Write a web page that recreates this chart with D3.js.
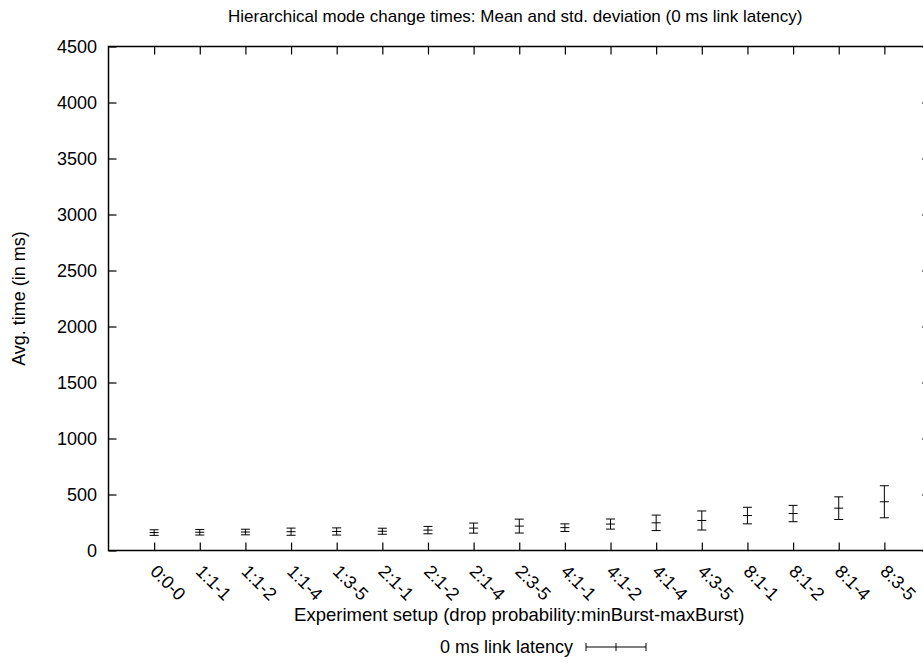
<!DOCTYPE html>
<html>
<head>
<meta charset="utf-8">
<script src="https://cdn.jsdelivr.net/npm/d3@7"></script>
<style>
  html, body { margin: 0; padding: 0; background: #fff; }
  svg { display: block; }
  text { font-family: "Liberation Sans", Arial, Helvetica, sans-serif; fill: #000; }
</style>
</head>
<body>
<svg id="chart" width="923" height="665"></svg>
<script>
// Experiment setups (drop probability:minBurst-maxBurst)
const categories = ["0:0-0", "1:1-1", "1:1-2", "1:1-4", "1:3-5", "2:1-1", "2:1-2", "2:1-4",
  "2:3-5", "4:1-1", "4:1-2", "4:1-4", "4:3-5", "8:1-1", "8:1-2", "8:1-4", "8:3-5"];
// Mean mode change time (ms) per setup
const means = [160, 163, 165, 168, 170, 172, 182, 200, 218, 204, 236, 247, 268, 312, 330, 378, 435];
// Standard deviation (ms) per setup
const stds = [25, 25, 25, 32, 32, 27, 33, 45, 62, 34, 45, 69, 85, 74, 73, 101, 143];
// Y axis ticks
const yTicks = [0, 500, 1000, 1500, 2000, 2500, 3000, 3500, 4000, 4500];

const title = "Hierarchical mode change times: Mean and std. deviation (0 ms link latency)";
const xLabel = "Experiment setup (drop probability:minBurst-maxBurst)";
const yLabel = "Avg. time (in ms)";
const seriesName = "0 ms link latency";

const svg = d3.select("#chart");
const plotL = 108.5, plotR = 930, plotT = 46.5, plotB = 550.5;
const midX = (plotL + plotR) / 2, midY = (plotT + plotB) / 2;
const fontSize = 18;

svg.append("rect").attr("width", 923).attr("height", 665).attr("fill", "#fff");

const x = d3.scaleLinear().domain([-1, categories.length]).range([plotL, plotR]);
const y = d3.scaleLinear().domain([0, 4500]).range([plotB, plotT]);
const idx = d3.range(categories.length);

// axes with inward ticks, mirrored on all four sides
const yAxisL = svg.append("g").attr("transform", `translate(${plotL},0)`)
  .call(d3.axisLeft(y).tickValues(yTicks).tickFormat(d3.format("d"))
    .tickSizeInner(-8).tickSizeOuter(0).tickPadding(11.5));
const yAxisR = svg.append("g").attr("transform", `translate(${plotR},0)`)
  .call(d3.axisRight(y).tickValues(yTicks).tickSizeInner(-8).tickSizeOuter(0).tickFormat(""));
const xAxisB = svg.append("g").attr("transform", `translate(0,${plotB})`)
  .call(d3.axisBottom(x).tickValues(idx).tickSizeInner(-8).tickSizeOuter(0).tickFormat(""));
const xAxisT = svg.append("g").attr("transform", `translate(0,${plotT})`)
  .call(d3.axisTop(x).tickValues(idx).tickSizeInner(-8).tickSizeOuter(0).tickFormat(""));

[yAxisL, yAxisR, xAxisB, xAxisT].forEach(g => {
  g.select(".domain").remove();
  g.selectAll(".tick line").attr("stroke", "#000").attr("stroke-width", 1.2);
});
yAxisL.selectAll(".tick text")
  .attr("font-size", fontSize)
  .style("font-family", "'Liberation Sans', Arial, sans-serif");

// rotated category labels
svg.append("g").selectAll("text").data(idx).join("text")
  .attr("transform", i => `translate(${x(i) - 5},${plotB + 22}) rotate(45)`)
  .attr("font-size", fontSize)
  .attr("text-anchor", "start")
  .text(i => categories[i]);

// plot border
svg.append("rect")
  .attr("x", plotL).attr("y", plotT)
  .attr("width", plotR - plotL).attr("height", plotB - plotT)
  .attr("fill", "none").attr("stroke", "#000").attr("stroke-width", 1.5);

// error bars: vertical span of one std. deviation each side, caps and mean tick
const cap = 4.5;
const bars = svg.append("g").attr("stroke", "#000").attr("stroke-width", 1).attr("fill", "none");
idx.forEach(i => {
  const cx = x(i);
  const lo = y(means[i] - stds[i]), hi = y(means[i] + stds[i]), m = y(means[i]);
  bars.append("line").attr("x1", cx).attr("x2", cx).attr("y1", lo).attr("y2", hi);
  bars.append("line").attr("x1", cx - cap).attr("x2", cx + cap).attr("y1", lo).attr("y2", lo);
  bars.append("line").attr("x1", cx - cap).attr("x2", cx + cap).attr("y1", hi).attr("y2", hi);
  bars.append("line").attr("x1", cx - cap).attr("x2", cx + cap).attr("y1", m).attr("y2", m);
});

// titles
svg.append("text").attr("x", midX - 4).attr("y", 22).attr("text-anchor", "middle")
  .attr("font-size", 17).text(title);
svg.append("text").attr("x", midX).attr("y", 621).attr("text-anchor", "middle")
  .attr("font-size", 18.5).text(xLabel);
svg.append("text").attr("transform", `translate(25,${midY}) rotate(-90)`).attr("text-anchor", "middle")
  .attr("font-size", fontSize).text(yLabel);

// legend
const ly = 647;
svg.append("text").attr("x", 573).attr("y", ly + 6).attr("text-anchor", "end")
  .attr("font-size", fontSize).text(seriesName);
const lx1 = 586, lx2 = 646, lxm = (lx1 + lx2) / 2;
const lg = svg.append("g").attr("stroke", "#000").attr("stroke-width", 1);
lg.append("line").attr("x1", lx1).attr("x2", lx2).attr("y1", ly).attr("y2", ly);
lg.append("line").attr("x1", lx1).attr("x2", lx1).attr("y1", ly - 4).attr("y2", ly + 4);
lg.append("line").attr("x1", lx2).attr("x2", lx2).attr("y1", ly - 4).attr("y2", ly + 4);
lg.append("line").attr("x1", lxm).attr("x2", lxm).attr("y1", ly - 4).attr("y2", ly + 4);
</script>
</body>
</html>
